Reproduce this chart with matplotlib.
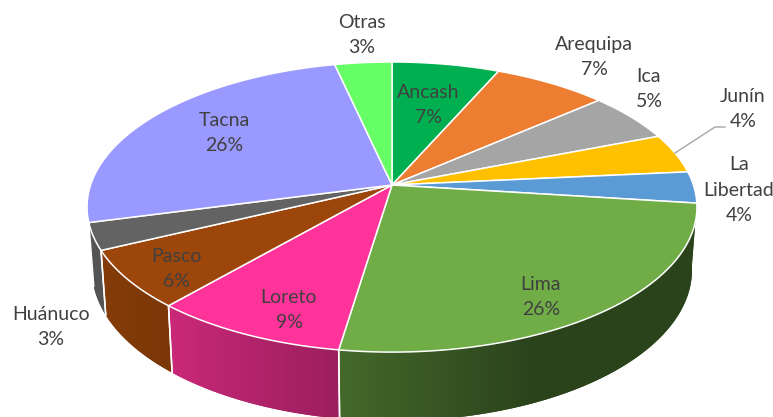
import numpy as np
import matplotlib
matplotlib.use('Agg')
import matplotlib.pyplot as plt
from matplotlib.patches import Polygon

plt.rcParams['font.family'] = ['Lato', 'DejaVu Sans']

regions = ['Ancash', 'Arequipa', 'Ica', 'Junín', 'La\nLibertad', 'Lima',
           'Loreto', 'Pasco', 'Huánuco', 'Tacna', 'Otras']
shares = [6.6, 7.0, 5.5, 4.4, 3.5, 25.4, 9.0, 6.5, 3.0, 25.6, 3.5]
pct_labels = ['7%', '7%', '5%', '4%', '4%', '26%', '9%', '6%', '3%', '26%', '3%']
colors = ['#00b050', '#ed7d31', '#a5a5a5', '#ffc000', '#5b9bd5', '#70ad47',
          '#ff3399', '#9c460b', '#636363', '#9999ff', '#66ff66']
wall_regions = ['Lima', 'Loreto', 'Pasco', 'Huánuco']


# circle angle (clockwise from the back) to picture pixels, with perspective
def rim(theta, a, b, y0, k=0.152):
    w = 1 + k * np.cos(theta)
    return 392 + a * np.sin(theta) / w, y0 - b * np.cos(theta) / w


def top_rim(theta):
    return rim(theta, 301.4, 141.7, 185)


def bottom_rim(theta):
    return rim(theta, 296.5, 147.5, 247)


# wall gets darker from left to right
def shade(x):
    return np.interp(x, [90, 170, 338, 530, 700], [0.86, 0.79, 0.61, 0.39, 0.39])


fig = plt.figure(figsize=(7.73, 4.17), dpi=100)
ax = fig.add_axes([0, 0, 1, 1])
ax.axis('off')

edges = np.radians(np.cumsum([0] + shares) * 3.6)

# side walls first, the top face covers whatever is behind
grad_x = np.arange(0, 774)
for i, c in enumerate(colors):
    if regions[i] not in wall_regions:
        continue
    base = np.array(matplotlib.colors.to_rgb(c))
    t = np.linspace(edges[i], edges[i + 1], 120)
    xt, yt = top_rim(t)
    xb, yb = bottom_rim(t)
    pts = np.column_stack([np.r_[xt, xb[::-1]], np.r_[yt, yb[::-1]]])
    # plain polygon gives the smooth outline, the gradient goes on top of it
    mid = base * shade(xb.mean())
    ax.add_patch(Polygon(pts, closed=True, facecolor=mid, edgecolor='none', zorder=2))
    clip = Polygon(pts, closed=True, transform=ax.transData)
    img = (base[None, None, :] * shade(grad_x)[None, :, None])
    ax.imshow(img, extent=(0, 773, 417, 0), aspect='auto', zorder=2.5,
              clip_path=clip, interpolation='bilinear')

ax.set_xlim(0, 773)
ax.set_ylim(417, 0)

for i in range(len(regions)):
    if regions[i] in wall_regions:
        for e in [edges[i], edges[i + 1]]:
            if e > np.pi:
                xt, yt = top_rim(e)
                xb, yb = bottom_rim(e)
                ax.plot([xt, xb], [yt, yb], color='white', lw=1.1, zorder=3)

# top face
for i, c in enumerate(colors):
    t = np.linspace(edges[i], edges[i + 1], 120)
    xr, yr = top_rim(t)
    pts = np.column_stack([np.r_[392, xr], np.r_[185, yr]])
    ax.add_patch(Polygon(pts, closed=True, facecolor=c, edgecolor='white',
                         lw=1.1, joinstyle='round', zorder=4))

# Junin leader line
ax.plot([675, 715, 725], [153, 127, 127], color='#a6a6a6', lw=1.0, zorder=5)

label_pos = [(428, 105), (594, 57), (649, 89), (743, 109), (739, 190), (541, 297),
             (289, 310), (176, 269), (51, 327), (224, 133), (362, 35)]
for name, pct, (x, y) in zip(regions, pct_labels, label_pos):
    ax.text(x, y, name + '\n' + pct, ha='center', va='center', fontsize=14,
            color='#404040', linespacing=1.58, zorder=6)

fig.savefig('out.png', dpi=100)
